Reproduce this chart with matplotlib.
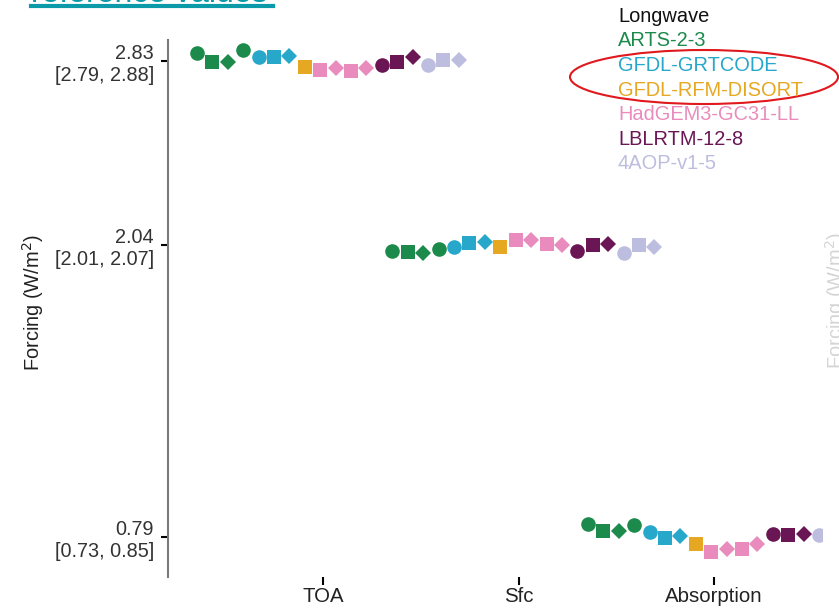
import matplotlib
matplotlib.use('Agg')
import matplotlib.pyplot as plt
from matplotlib.patches import Ellipse
from matplotlib.lines import Line2D

plt.rcParams['font.family'] = ['Liberation Sans', 'DejaVu Sans']

categories = ['TOA', 'Sfc', 'Absorption']
tick_values = [2.83, 2.04, 0.79]
tick_ranges = ['[2.79, 2.88]', '[2.01, 2.07]', '[0.73, 0.85]']

models = ['ARTS-2-3', 'GFDL-GRTCODE', 'GFDL-RFM-DISORT',
          'HadGEM3-GC31-LL', 'LBLRTM-12-8', '4AOP-v1-5']
colors = ['#1b8a4b', '#27a7c9', '#e6a823', '#e98cbd', '#6a1655', '#bdbde0']

# one entry per submission (model index), in plotting order
sub_model = [0, 0, 0, 0, 1, 1, 1, 2, 3, 3, 3, 3, 4, 4, 4, 5, 5, 5]
sub_marker = ['o', 's', 'D', 'o', 'o', 's', 'D', 's', 's', 'D', 's', 'D',
              'o', 's', 'D', 'o', 's', 'D']

toa = [2.864, 2.827, 2.827, 2.877, 2.848, 2.847, 2.851, 2.806, 2.792,
       2.799, 2.789, 2.799, 2.813, 2.827, 2.848, 2.813, 2.834, 2.834]
sfc = [2.017, 2.013, 2.009, 2.026, 2.034, 2.052, 2.056, 2.034, 2.064,
       2.064, 2.047, 2.043, 2.017, 2.043, 2.047, 2.009, 2.043, 2.034]
absorption = [0.846, 0.817, 0.817, 0.841, 0.810, 0.784, 0.796, 0.760, 0.727,
              0.739, 0.739, 0.760, 0.803, 0.799, 0.803, 0.799, 0.805, 0.800]
values = [toa, sfc, absorption]

W, H = 839, 609
fig = plt.figure(figsize=(W / 100, H / 100), dpi=100)
fig.patch.set_facecolor('white')

def fx(px): return px / W
def fy(py): return 1 - py / H

ax = fig.add_axes([fx(168), fy(577), fx(822) - fx(168), fy(40) - fy(577)])

msize = {'o': 10.5, 's': 9.5, 'D': 8.3}
step = 0.0788
first = -0.645
for c in range(len(categories)):
    for i in range(len(sub_model)):
        m = sub_marker[i]
        ax.plot(c + first + i * step, values[c][i], marker=m, ls='none',
                color=colors[sub_model[i]], ms=msize[m], mew=0)

ax.set_xlim(-0.793, 2.552)
ax.set_ylim(0.619, 2.92)
for s in ['top', 'right', 'bottom']:
    ax.spines[s].set_visible(False)
ax.spines['left'].set_color('#7a7a7a')
ax.spines['left'].set_linewidth(1.5)

ax.set_yticks(tick_values)
ax.set_yticklabels(['%.2f\n%s' % (v, r) for v, r in zip(tick_values, tick_ranges)],
                   multialignment='right')
ax.tick_params(axis='y', length=5, width=1.5, color='black', labelsize=14.3,
               labelcolor='#333333', pad=5)
ax.set_xticks(range(len(categories)))
ax.set_xticklabels(categories)
ax.tick_params(axis='x', length=5.5, width=1.5, color='black', labelsize=14.7,
               labelcolor='#222222', pad=2)

fig.text(fx(33), fy(302), 'Forcing (W/m$^2$)', rotation=90, ha='center',
         va='center', fontsize=14.4, color='#222222')
# label of the neighbouring panel, mostly beyond the right edge
fig.text(fx(836), fy(300), 'Forcing (W/m$^2$)', rotation=90, ha='center',
         va='center', fontsize=14.4, color='#d5d5d5')

# legend as coloured text
fig.text(fx(618), fy(17), 'Longwave', fontsize=14.4, color='#111111', va='center')
for k, name in enumerate(models):
    fig.text(fx(618), fy(41 + k * 24.5), name, fontsize=14.4, color=colors[k],
             va='center')

# red annotation ellipse
fig.add_artist(Ellipse((fx(704), fy(77)), fx(268), 54 / H, fill=False,
                       edgecolor='#e0191e', lw=1.5, transform=fig.transFigure))

# slide title, cut off at the top
teal = '#0b9aa8'
fig.text(fx(31), fy(2), 'reference values', fontsize=23, color=teal,
         ha='left', va='baseline')
fig.add_artist(Line2D([fx(31), fx(273)], [fy(6), fy(6)], color=teal, lw=3,
                      transform=fig.transFigure))

fig.savefig('out.png', dpi=100)
